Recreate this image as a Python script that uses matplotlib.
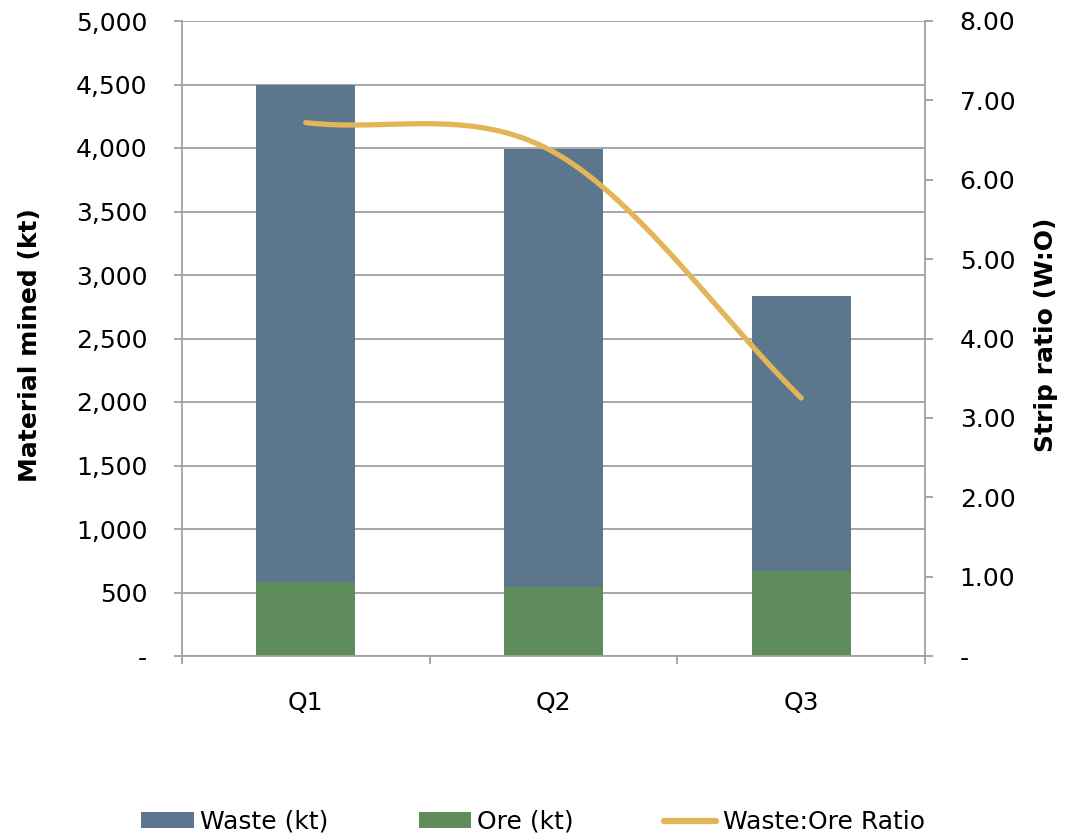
import numpy as np
import matplotlib
matplotlib.use("Agg")
import matplotlib.pyplot as plt
from matplotlib.patches import Patch
from matplotlib.lines import Line2D
from matplotlib.ticker import FuncFormatter, FixedLocator

# data
quarters = ["Q1", "Q2", "Q3"]
ore_kt = [583, 543, 667]
waste_kt = [3917, 3447, 2168]
strip_ratio = [6.72, 6.35, 3.25]

waste_col = "#5B768D"
ore_col = "#5E8C5B"
line_col = "#E2B656"
grid_col = "#A0A0A0"

plt.rcParams["font.family"] = ["DejaVu Sans"]
fs = 18

fig = plt.figure(figsize=(10.66, 8.35), dpi=100)
ax = fig.add_axes([182 / 1066, 1 - 656 / 835, 743 / 1066, 635 / 835])
x = np.arange(len(quarters))

ax.bar(x, ore_kt, width=0.4, color=ore_col, zorder=2)
ax.bar(x, waste_kt, width=0.4, bottom=ore_kt, color=waste_col, zorder=2)

ax.set_xlim(-0.5, 2.5)
ax.set_ylim(0, 5000)
ax.set_yticks(np.arange(0, 5001, 500))
ax.yaxis.set_major_formatter(FuncFormatter(lambda v, p: "-" if v == 0 else f"{v:,.0f}"))
ax.set_axisbelow(True)
ax.yaxis.grid(True, color=grid_col, linewidth=1.3)
ax.set_xticks(x)
ax.set_xticklabels(quarters)
ax.xaxis.set_minor_locator(FixedLocator([-0.5, 0.5, 1.5, 2.5]))
ax.tick_params(axis="x", which="major", length=0, pad=25, labelsize=fs)
ax.tick_params(axis="x", which="minor", length=6, width=1.3, color=grid_col, direction="out")
ax.tick_params(axis="y", length=6, width=1.3, color=grid_col, pad=19, labelsize=fs)
for s in ["top", "right"]:
    ax.spines[s].set_visible(False)
for s in ["left", "bottom"]:
    ax.spines[s].set_color(grid_col)
    ax.spines[s].set_linewidth(1.3)

# right axis: strip ratio, smoothed line (Excel style bezier)
ax2 = ax.twinx()
ax2.set_ylim(0, 8)
ax2.set_yticks(np.arange(0, 8.01, 1))
ax2.yaxis.set_major_formatter(FuncFormatter(lambda v, p: "-" if v == 0 else f"{v:.2f}"))
ax2.tick_params(axis="y", length=6, width=1.3, color=grid_col, pad=19, labelsize=fs)
for s in ["top", "left", "bottom"]:
    ax2.spines[s].set_visible(False)
ax2.spines["right"].set_color(grid_col)
ax2.spines["right"].set_linewidth(1.3)

fig.text(30 / 1066, 1 - 345 / 835, "Material mined (kt)", rotation=90, ha="center", va="center",
         fontsize=18, fontweight="bold")
fig.text(1046 / 1066, 1 - 335 / 835, "Strip ratio (W:O)", rotation=90, ha="center", va="center",
         fontsize=18, fontweight="bold")

pts = np.column_stack([x, strip_ratio]).astype(float)
n = len(pts)
t = np.linspace(0, 1, 60)[:, None]
curve = []
for i in range(n - 1):
    p0, p3 = pts[i], pts[i + 1]
    if i == 0:
        c1 = p0 + (p3 - p0) / 3
    else:
        c1 = p0 + (p3 - pts[i - 1]) / 6
    if i + 2 >= n:
        c2 = p3 - (p3 - p0) / 3
    else:
        c2 = p3 - (pts[i + 2] - p0) / 6
    seg = (1 - t) ** 3 * p0 + 3 * (1 - t) ** 2 * t * c1 + 3 * (1 - t) * t ** 2 * c2 + t ** 3 * p3
    curve.append(seg)
curve = np.vstack(curve)
ax2.plot(curve[:, 0], curve[:, 1], color=line_col, linewidth=3.8, solid_capstyle="round", zorder=3)

handles = [Patch(facecolor=waste_col, label="Waste (kt)"),
           Patch(facecolor=ore_col, label="Ore (kt)"),
           Line2D([], [], color=line_col, linewidth=4.5, solid_capstyle="round", label="Waste:Ore Ratio")]
fig.legend(handles=handles, loc="center", bbox_to_anchor=(0.5, 1 - 822 / 835), ncol=3,
           frameon=False, fontsize=fs, handlelength=2.1, handleheight=0.6,
           handletextpad=0.25, columnspacing=3.6)

fig.savefig("out.png", dpi=100)
